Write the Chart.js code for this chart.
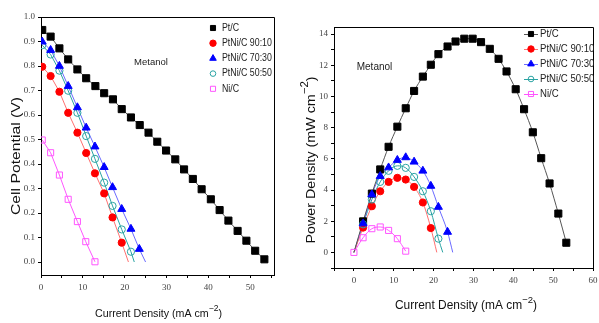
<!DOCTYPE html>
<html><head><meta charset="utf-8">
<script src="https://cdn.jsdelivr.net/npm/chart.js@4.4.1/dist/chart.umd.min.js"></script>
<style>
html,body{margin:0;padding:0;background:#fff;}
#wrap{position:relative;width:599px;height:323px;overflow:hidden;background:#fff;}
#c1{position:absolute;left:0;top:0;}
#c2{position:absolute;left:300px;top:0;}
</style></head><body>
<div id="wrap"><canvas id="c1" width="300" height="323"></canvas><canvas id="c2" width="299" height="323"></canvas></div>
<script>
// ---------- DATA ----------
const seriesNames = ['Pt/C', 'PtNi/C 90:10', 'PtNi/C 70:30', 'PtNi/C 50:50', 'Ni/C'];
const annotationText = 'Metanol';

// Polarization curves: current density (mA cm-2) and cell potential (V)
const polPtC_I  = [0.3,2.3,4.4,6.5,8.7,10.8,13.0,15.1,17.2,19.3,21.5,23.6,25.7,27.8,29.9,32.1,34.2,36.3,38.4,40.6,42.7,44.8,47.0,49.1,51.2,53.4];
const polPtC_V  = [0.947,0.92,0.872,0.827,0.786,0.75,0.718,0.689,0.664,0.624,0.59,0.559,0.528,0.491,0.455,0.419,0.378,0.339,0.297,0.256,0.212,0.169,0.127,0.087,0.046,0.011];
const pol9010_I = [0.3,2.3,4.4,6.5,8.7,10.8,12.9,15.1,17.1,19.3];
const pol9010_V = [0.797,0.759,0.695,0.609,0.528,0.445,0.362,0.28,0.182,0.079];
const pol7030_I = [0.3,2.3,4.4,6.5,8.7,10.8,12.9,15.1,17.1,19.3,21.5,23.5];
const pol7030_V = [0.899,0.865,0.8,0.718,0.631,0.548,0.471,0.387,0.305,0.216,0.135,0.053];
const pol5050_I = [0.3,2.3,4.4,6.5,8.7,10.8,12.9,15.1,17.1,19.3,21.5];
const pol5050_V = [0.885,0.847,0.781,0.699,0.609,0.514,0.421,0.324,0.229,0.133,0.042];
const polNi_I   = [0.3,2.3,4.4,6.5,8.7,10.7,12.9];
const polNi_V   = [0.498,0.446,0.355,0.256,0.165,0.083,0.001];
// where the fitted lines reach the axis (I, V)
const polFitEnd9010 = [20.9, 0];
const polFitEnd7030 = [25.0, 0];
const polFitEnd5050 = [22.3, 0];

// Power density curves: current density (mA cm-2) and power density (mW cm-2)
const powPtC_I  = [0,2.3,4.5,6.6,8.7,10.9,13.0,15.1,17.3,19.3,21.2,23.5,25.5,27.7,29.8,31.9,34.1,36.3,38.3,40.6,42.7,44.9,47.0,49.1,51.3,53.3];
const powPtC_P  = [0,1.99,3.77,5.32,6.77,8.06,9.24,10.35,11.27,12.03,12.71,13.2,13.52,13.7,13.7,13.48,13.05,12.41,11.6,10.46,9.18,7.7,6.04,4.42,2.49,0.62];
const pow9010_I = [0,2.3,4.5,6.6,8.7,10.9,13.0,15.1,17.3,19.3];
const pow9010_P = [0,1.59,2.96,3.92,4.52,4.78,4.67,4.2,3.2,1.56];
const pow7030_I = [0,2.3,4.5,6.6,8.7,10.9,13.0,15.1,17.3,19.3,21.2,23.5];
const pow7030_P = [0,1.85,3.71,4.89,5.44,5.92,6.09,5.81,5.23,4.26,2.91,1.31];
const pow5050_I = [0,2.3,4.5,6.6,8.7,10.9,13.0,15.1,17.3,19.3,21.2];
const pow5050_P = [0,1.8,3.39,4.52,5.23,5.55,5.42,4.84,3.92,2.64,0.88];
const powNi_I   = [0,2.3,4.5,6.6,8.7,10.9,13.0];
const powNi_P   = [0,0.94,1.52,1.63,1.41,0.88,0.08];
const powFitEnd9010 = [20.8, 0];
const powFitEnd7030 = [24.8, 0];
const powFitEnd5050 = [22.3, 0];

// Axis tick labels
const polXTicks = [0,10,20,30,40,50];
const polYTicks = [0.0,0.1,0.2,0.3,0.4,0.5,0.6,0.7,0.8,0.9,1.0];
const powXTicks = [0,10,20,30,40,50,60];
const powYTicks = [0,2,4,6,8,10,12,14];

// ---------- STYLES ----------
const FONT = '"Liberation Sans", Arial, sans-serif';
const TICKFONT = '"Liberation Serif", "Times New Roman", serif';
const styles = [
  {shape:'rect',     r:5,   fill:'#000000', stroke:'#000000', line:'#555555', lr:3.6},
  {shape:'circle',   r:3.6, fill:'#ff0000', stroke:'#ff0000', line:'#ff7070', lr:3.2},
  {shape:'triangle', r:4.6, fill:'#0000ff', stroke:'#0000ff', line:'#6a6aff', lr:3.8},
  {shape:'circle',   r:3.6, fill:null,      stroke:'#2aa3a3', line:'#2aa3a3', lr:2.8},
  {shape:'rect',     r:4.3, fill:null,      stroke:'#ff55ff', line:'#ff55ff', lr:3.6}
];

function pts(xs, ys){ return xs.map((x,i)=>({x:x, y:ys[i]})); }

function drawMarker(ctx, st, x, y, r){
  ctx.save();
  ctx.lineWidth = 1;
  ctx.strokeStyle = st.stroke;
  ctx.fillStyle = st.fill || 'rgba(0,0,0,0)';
  ctx.beginPath();
  if (st.shape === 'rect') {
    const s = r*Math.SQRT1_2;
    ctx.rect(x-s, y-s, 2*s, 2*s);
  } else if (st.shape === 'circle') {
    ctx.arc(x, y, r, 0, Math.PI*2);
  } else {
    let a = 0;
    ctx.moveTo(x + Math.sin(a)*r, y - Math.cos(a)*r);
    a += 2*Math.PI/3; ctx.lineTo(x + Math.sin(a)*r, y - Math.cos(a)*r);
    a += 2*Math.PI/3; ctx.lineTo(x + Math.sin(a)*r, y - Math.cos(a)*r);
    ctx.closePath();
  }
  if (st.fill) ctx.fill();
  ctx.stroke();
  ctx.restore();
}

function drawTitle(ctx, cx, cy, rot, main, sup, tail, size, target){
  ctx.save();
  ctx.translate(cx, cy); ctx.rotate(rot);
  ctx.fillStyle = '#111';
  ctx.textBaseline = 'middle'; ctx.textAlign = 'left';
  ctx.font = size + 'px ' + FONT;
  const w1 = ctx.measureText(main).width, w3 = ctx.measureText(tail).width;
  ctx.font = (size*0.8) + 'px ' + FONT;
  const w2 = ctx.measureText(sup).width;
  const total = w1 + w2 + w3;
  ctx.scale(target/total, 1);
  let x = -total/2;
  ctx.font = size + 'px ' + FONT;
  ctx.fillText(main, x, 0); x += w1;
  ctx.font = (size*0.8) + 'px ' + FONT;
  ctx.fillText(sup, x, -size*0.45); x += w2;
  ctx.font = size + 'px ' + FONT;
  ctx.fillText(tail, x, 0);
  ctx.restore();
}

function decoPlugin(cfg){
  return {
    id: 'deco',
    afterDraw(chart){
      const ctx = chart.ctx, a = chart.chartArea;
      ctx.save();
      ctx.strokeStyle = '#000'; ctx.lineWidth = 1;
      ctx.beginPath();
      ctx.moveTo(a.left, Math.round(a.top)+0.5); ctx.lineTo(Math.round(a.right)+0.5, Math.round(a.top)+0.5);
      ctx.lineTo(Math.round(a.right)+0.5, a.bottom);
      ctx.stroke();
      drawTitle(ctx, cfg.xt.cx, cfg.xt.cy, 0, 'Current Density (mA cm', '\u22122', ')', cfg.xt.size, cfg.xt.w);
      drawTitle(ctx, cfg.yt.cx, cfg.yt.cy, -Math.PI/2, cfg.yt.main, cfg.yt.sup, cfg.yt.tail, cfg.yt.size, cfg.yt.w);
      ctx.fillStyle = '#222'; ctx.font = cfg.ann.size + 'px ' + FONT;
      ctx.textAlign = 'center'; ctx.textBaseline = 'middle';
      ctx.fillText(annotationText, cfg.ann.x, cfg.ann.y);
      ctx.textAlign = 'left';
      seriesNames.forEach((name, i) => {
        const y = cfg.leg.y0 + i*cfg.leg.dy;
        const st = styles[i];
        if (cfg.leg.lines) {
          ctx.strokeStyle = st.line; ctx.lineWidth = 1;
          ctx.beginPath(); ctx.moveTo(cfg.leg.mx-7, y+0.5); ctx.lineTo(cfg.leg.mx+7, y+0.5); ctx.stroke();
        }
        drawMarker(ctx, st, cfg.leg.mx, y, st.lr);
        ctx.save();
        ctx.translate(cfg.leg.tx, y);
        ctx.scale(cfg.leg.sx, 1);
        ctx.fillStyle = '#222'; ctx.font = cfg.leg.size + 'px ' + FONT;
        ctx.textBaseline = 'middle';
        ctx.fillText(name, 0, 0);
        ctx.restore();
      });
      ctx.restore();
    }
  };
}

function isIn(v, list){ return list.some(t => Math.abs(t - v) < 1e-6); }

function scaleCfg(horizontal, size, min, max, step, labels, fmt, pad){
  return {
    type: 'linear', min: min, max: max,
    afterBuildTicks(s){ s.ticks = s.ticks.filter(t => t.value >= min - 1e-9 && t.value <= max + 1e-9); },
    ticks: {
      stepSize: step, includeBounds: false, autoSkip: false, maxRotation: 0,
      padding: pad, color: '#444', font: {family: TICKFONT, size: 9},
      callback: (v) => isIn(v, labels) ? fmt(v) : ''
    },
    grid: {display: true, drawOnChartArea: false, drawTicks: true, tickLength: 3, color: '#000', lineWidth: 1},
    border: {display: true, color: '#000', width: 1},
    afterFit(s){
      if (horizontal) s.height = size; else s.width = size;
      s.paddingLeft = 0; s.paddingRight = 0; s.paddingTop = 0; s.paddingBottom = 0;
    }
  };
}

function buildDatasets(series, fits, smooth){
  const lines = [], marks = [];
  const markOrder = [9, 8, 6, 7, 5];
  series.forEach((s, i) => {
    const st = styles[i];
    const ld = pts(s[0], s[1]);
    if (fits[i]) ld.push({x: fits[i][0], y: fits[i][1]});
    lines.push({
      label: seriesNames[i] + ' fit', data: ld, showLine: true, pointRadius: 0,
      borderColor: st.line, borderWidth: 1, fill: false, order: 20 + i,
      tension: smooth ? 0.4 : 0, cubicInterpolationMode: smooth ? 'monotone' : 'default'
    });
    marks.push({
      label: seriesNames[i], data: pts(s[0], s[1]), showLine: false,
      pointStyle: st.shape,
      pointRadius: (c) => (s[2] && c.dataIndex === 0) ? 0 : st.r,
      pointBackgroundColor: st.fill || 'rgba(0,0,0,0)',
      pointBorderColor: st.stroke, pointBorderWidth: 1,
      order: markOrder[i]
    });
  });
  return lines.concat(marks);
}

const common = {
  responsive: false, animation: false, devicePixelRatio: 1,
  plugins: {legend: {display: false}, tooltip: {enabled: false}}
};

// ---------- LEFT: polarization ----------
new Chart(document.getElementById('c1'), {
  type: 'scatter',
  data: {datasets: buildDatasets([
    [polPtC_I, polPtC_V], [pol9010_I, pol9010_V], [pol7030_I, pol7030_V],
    [pol5050_I, pol5050_V], [polNi_I, polNi_V]
  ], [null, polFitEnd9010, polFitEnd7030, polFitEnd5050, null], false)},
  options: Object.assign({}, common, {
    layout: {padding: {left: 0, top: 17, right: 26, bottom: 0}},
    scales: {
      x: scaleCfg(true, 48, 0, 55.7, 5, polXTicks, v => String(Math.round(v)), 4),
      y: scaleCfg(false, 41, -0.053, 1.0, 0.1, polYTicks, v => v.toFixed(1), 3)
    }
  }),
  plugins: [decoPlugin({
    xt: {cx: 158.5, cy: 314, size: 11, w: 127},
    yt: {cx: 16, cy: 156, main: 'Cell Potential (V)', sup: '', tail: '', size: 13, w: 118},
    ann: {x: 151, y: 62, size: 9.5},
    leg: {mx: 213, tx: 222, y0: 28, dy: 15.2, size: 10, sx: 0.88, lines: false}
  })]
});

// ---------- RIGHT: power density ----------
new Chart(document.getElementById('c2'), {
  type: 'scatter',
  data: {datasets: buildDatasets([
    [powPtC_I, powPtC_P, true], [pow9010_I, pow9010_P, true], [pow7030_I, pow7030_P, true],
    [pow5050_I, pow5050_P, true], [powNi_I, powNi_P, false]
  ], [null, powFitEnd9010, powFitEnd7030, powFitEnd5050, null], true)},
  options: Object.assign({}, common, {
    layout: {padding: {left: 0, top: 27, right: 2, bottom: 0}},
    scales: {
      x: scaleCfg(true, 55, -5, 60, 5, powXTicks, v => String(Math.round(v)), 4),
      y: scaleCfg(false, 34, -1, 14.45, 1, powYTicks, v => String(Math.round(v)), 3)
    }
  }),
  plugins: [decoPlugin({
    xt: {cx: 166, cy: 306, size: 12, w: 142},
    yt: {cx: 11, cy: 160, main: 'Power Density (mW cm', sup: '\u22122', tail: ')', size: 13, w: 167},
    ann: {x: 74.5, y: 67, size: 10},
    leg: {mx: 231, tx: 240, y0: 34, dy: 15, size: 10, sx: 0.96, lines: true}
  })]
});
</script>
</body></html>
